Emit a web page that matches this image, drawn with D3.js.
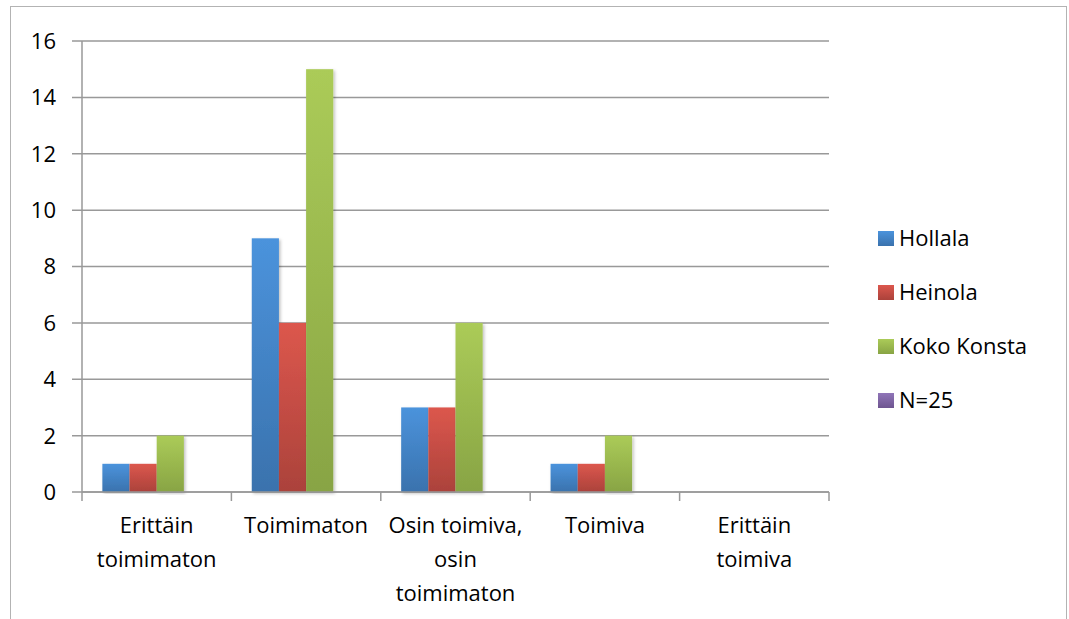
<!DOCTYPE html>
<html><head><meta charset="utf-8">
<script src="https://cdn.jsdelivr.net/npm/d3@7"></script>
<style>body{margin:0;background:#fff}svg{display:block}text{font-family:"Open Sans",Lato,sans-serif;fill:#000}</style>
</head><body>
<script>
const categories = ["Erittäin toimimaton","Toimimaton","Osin toimiva, osin toimimaton","Toimiva","Erittäin toimiva"];
const categoryLines = [["Erittäin","toimimaton"],["Toimimaton"],["Osin toimiva,","osin","toimimaton"],["Toimiva"],["Erittäin","toimiva"]];
const seriesNames = ["Hollala","Heinola","Koko Konsta","N=25"];
const hollala = [1,9,3,1,0];
const heinola = [1,6,3,1,0];
const kokoKonsta = [2,15,6,2,0];
const n25 = [0,0,0,0,0];
const yTicks = [0,2,4,6,8,10,12,14,16];
const seriesValues = [hollala, heinola, kokoKonsta, n25];
const colors = [["#4b93dc","#3a72ad"],["#dc574d","#ab423b"],["#abcb58","#88a444"],["#9075b8","#6e5590"]];

const W=1069,H=619,FS=22;
const svg=d3.select("body").append("svg").attr("width",W).attr("height",H);
const defs=svg.append("defs");
colors.forEach((c,i)=>{
  const g=defs.append("linearGradient").attr("id","g"+i).attr("x1",0).attr("y1",0).attr("x2",0).attr("y2",1);
  g.append("stop").attr("offset","0%").attr("stop-color",c[0]);
  g.append("stop").attr("offset","100%").attr("stop-color",c[1]);
});
const f=defs.append("filter").attr("id","sh").attr("x","-20%").attr("y","-5%").attr("width","140%").attr("height","110%");
f.append("feDropShadow").attr("dx",1.5).attr("dy",1.5).attr("stdDeviation",1.5).attr("flood-color","#000").attr("flood-opacity",0.25);

svg.append("rect").attr("x",10.5).attr("y",6.5).attr("width",1056).attr("height",640).attr("fill","none").attr("stroke","#b3b3b3").attr("stroke-width",1);

const x0=82,x1=829,yTop=41,yBot=492;
const x=d3.scaleBand().domain(categories).range([x0,x1]).paddingInner(0).paddingOuter(0);
const y=d3.scaleLinear().domain([0,16]).range([yBot,yTop]);
const bw=x.bandwidth()/5.5;
const xs=d3.scaleBand().domain(seriesNames).range([0,bw*4]);

const grid=svg.append("g");
yTicks.forEach(t=>{
  grid.append("line").attr("x1",x0-10).attr("x2",x1).attr("y1",y(t)).attr("y2",y(t)).attr("stroke","#999").attr("stroke-width",1.5);
  svg.append("text").attr("x",56).attr("y",y(t)).attr("dy","0.36em").attr("text-anchor","end").attr("font-size",FS).text(t);
});
grid.append("line").attr("x1",x0).attr("x2",x0).attr("y1",yTop).attr("y2",yBot).attr("stroke","#999").attr("stroke-width",1.5);
const bounds=categories.map(c=>x(c)).concat([x1]);
bounds.forEach(b=>grid.append("line").attr("x1",b).attr("x2",b).attr("y1",yBot).attr("y2",yBot+9).attr("stroke","#999").attr("stroke-width",1.5));

seriesValues.forEach((vals,si)=>{
  svg.append("g").selectAll("rect").data(vals).join("rect")
    .attr("x",(d,i)=>x(categories[i])+(x.bandwidth()-bw*4)/2+xs(seriesNames[si]))
    .attr("y",d=>y(d)).attr("width",bw).attr("height",d=>y(0)-y(d))
    .attr("fill","url(#g"+si+")").attr("filter","url(#sh)");
});
svg.append("line").attr("x1",x0).attr("x2",x1).attr("y1",yBot).attr("y2",yBot).attr("stroke","#999").attr("stroke-width",1.5);

categoryLines.forEach((lines,i)=>{
  const cx=x(categories[i])+x.bandwidth()/2;
  lines.forEach((l,j)=>svg.append("text").attr("x",cx).attr("y",533+j*34).attr("text-anchor","middle").attr("font-size",FS).text(l));
});

seriesNames.forEach((n,i)=>{
  const cy=238+i*54;
  svg.append("rect").attr("x",878).attr("y",cy-7).attr("width",16).attr("height",15).attr("fill","url(#g"+i+")");
  svg.append("text").attr("x",899).attr("y",cy).attr("dy","0.36em").attr("font-size",FS).text(n);
});
</script>
</body></html>
